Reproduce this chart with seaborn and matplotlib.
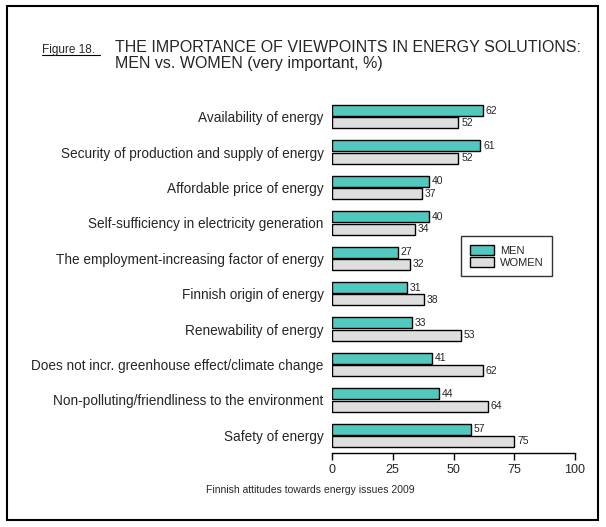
import matplotlib
matplotlib.use("Agg")
import matplotlib.pyplot as plt
import seaborn as sns
import pandas as pd
from matplotlib.patches import Rectangle

categories = [
    "Availability of energy",
    "Security of production and supply of energy",
    "Affordable price of energy",
    "Self-sufficiency in electricity generation",
    "The employment-increasing factor of energy",
    "Finnish origin of energy",
    "Renewability of energy",
    "Does not incr. greenhouse effect/climate change",
    "Non-polluting/friendliness to the environment",
    "Safety of energy",
]
men = [62, 61, 40, 40, 27, 31, 33, 41, 44, 57]
women = [52, 52, 37, 34, 32, 38, 53, 62, 64, 75]
series = ["MEN", "WOMEN"]
xticks = [0, 25, 50, 75, 100]

df = pd.DataFrame({
    "cat": categories * 2,
    "val": men + women,
    "sex": [series[0]] * len(men) + [series[1]] * len(women),
})

sns.set_theme(style="white")
plt.rcParams['font.family'] = ['Liberation Sans', 'DejaVu Sans']

fig = plt.figure(figsize=(6.06, 5.27), dpi=100)
ax = fig.add_axes([332/606, 1-453/527, (575-332)/606, (453-99)/527])

palette = {"MEN": "#52C8BE", "WOMEN": "#DEDEDE"}
sns.barplot(data=df, y="cat", x="val", hue="sex", order=categories,
            hue_order=series, palette=palette, orient="h", width=0.7,
            gap=0.1, edgecolor="black", linewidth=1.0, saturation=1,
            ax=ax)

for cont in ax.containers:
    ax.bar_label(cont, padding=2, fontsize=7.5)

ax.set_xlim(0, 100)
ax.set_ylim(9.5, -0.5)
ax.set_xticks(xticks)
ax.set_xticklabels([str(t) for t in xticks], fontsize=9)
ax.set_xlabel("")
ax.set_ylabel("")
ax.tick_params(axis="y", length=0, pad=6, labelsize=9.8)
ax.tick_params(axis="x", length=5, width=1, direction="out", bottom=True, pad=3, color="black")
for s in ["top", "right", "left"]:
    ax.spines[s].set_visible(False)
ax.spines["bottom"].set_color("black")
ax.spines["bottom"].set_linewidth(1)

leg = ax.legend(loc="upper left", bbox_to_anchor=((461-332)/243, 1-(236-99)/354),
                borderaxespad=0, frameon=True, fontsize=8, handlelength=2.2,
                handleheight=1.0, borderpad=0.8, labelspacing=0.1,
                fancybox=False, handletextpad=0.5)
leg.get_frame().set_edgecolor("black")
leg.get_frame().set_linewidth(1)

fig.text(42/606, 1-53/527, "Figure 18.", fontsize=8.5, ha="left", va="baseline")
fig.add_artist(plt.Line2D([42/606, 100/606], [1-55/527, 1-55/527], color="black", lw=0.8))
fig.text(115/606, 1-40/527, "THE IMPORTANCE OF VIEWPOINTS IN ENERGY SOLUTIONS:\nMEN vs. WOMEN (very important, %)",
         fontsize=11.5, ha="left", va="top", linespacing=1.05)
fig.text(310/606, 1-490/527, "Finnish attitudes towards energy issues 2009", fontsize=7.5, ha="center", va="center")

fig.add_artist(Rectangle((7/606, 1-520/527), (598-7)/606, (520-6)/527,
                         transform=fig.transFigure, fill=False, edgecolor="black", lw=1.5))

fig.savefig("out.png", dpi=100)
